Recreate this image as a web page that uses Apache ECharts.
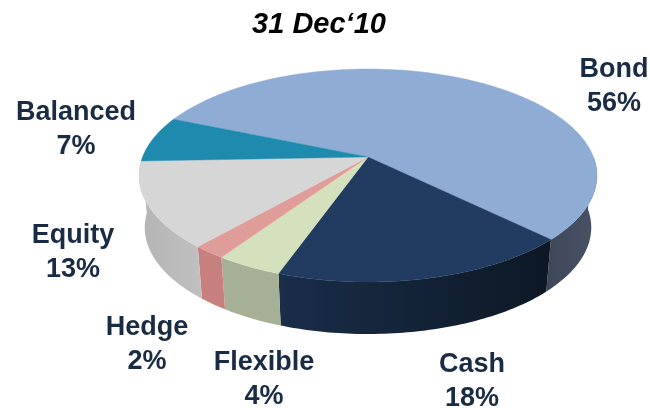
<!DOCTYPE html>
<html><head><meta charset="utf-8">
<style>html,body{margin:0;padding:0;background:#fff}#c{width:650px;height:408px;filter:blur(0.4px)}</style>
<script src="https://cdn.jsdelivr.net/npm/echarts@6/dist/echarts.min.js"></script>
</head><body><div id="c"></div>
<script>
var titleText = "31 Dec\u201810";
var names = ["Bond","Cash","Flexible","Hedge","Equity","Balanced"];
var shares = [56,18,4,2,13,7];
var topColors = ["#8fadd4","#213c60","#d5e1bd","#e09c99","#d6d6d6","#1e8bae"];
var sideFrom = ["#3d4759","#1a2d49","#a5b096","#c8807e","#b4b4b4","#1e8bae"];
var sideTo   = ["#4a5365","#0c1824","#a5b096","#c8807e","#c0c0c0","#1e8bae"];
var labelAnchors = [[614,87],[472,382],[264,380],[147,345],[73,253],[76,130]];

var startAngle = 203.0, cx = 368, cy = 157, sx = 225.5, sy = 103.3, k = 0.1737;
var depthY = 52, bottomScale = 0.975, sideStart = 360, sideEnd = 537.8;
var total = shares.reduce(function(a,b){return a+b;},0);

function rim(deg, bottom){
  var r = deg*Math.PI/180, u = Math.cos(r), v = Math.sin(r), d = 1-k*v;
  var X = sx*u/d, Y = sy*v/d;
  return bottom ? [cx+X*bottomScale, cy+depthY+Y] : [cx+X, cy+Y];
}
function arc(a,b,bottom){
  var pts=[], n=Math.max(2,Math.ceil(Math.abs(b-a)));
  for(var i=0;i<=n;i++) pts.push(rim(a+(b-a)*i/n,bottom));
  return pts;
}
function renderSlice(params, api){
  var i = params.dataIndex, before = 0;
  for(var j=0;j<i;j++) before += shares[j];
  var a = startAngle + before/total*360, b = a + api.value(0)/total*360;
  var children = [];
  var sa = Math.max(a,sideStart), sb = Math.min(b,sideEnd);
  if(sb-sa>0.01){
    var top = arc(sa,sb,false), bot = arc(sa,sb,true).reverse();
    var xs = top.concat(bot).map(function(p){return p[0];});
    children.push({type:'polygon',shape:{points:top.concat(bot)},style:{
      fill:new echarts.graphic.LinearGradient(Math.min.apply(null,xs),0,Math.max.apply(null,xs),0,
        [{offset:0,color:sideFrom[i]},{offset:1,color:sideTo[i]}],true),
      stroke:null}});
  }
  var pts = [[cx,cy]].concat(arc(a,b,false));
  children.push({type:'polygon',shape:{points:pts},style:{fill:topColors[i],stroke:topColors[i],lineWidth:0.4}});
  return {type:'group',children:children};
}
var chart = echarts.init(document.getElementById('c'),null,{renderer:'canvas'});
chart.setOption({
  animation:false,
  backgroundColor:'#fff',
  title:{text:titleText,left:314,top:5,textAlign:'center',
    textStyle:{fontFamily:'Liberation Sans',fontSize:29,fontWeight:'bold',fontStyle:'italic',color:'#000'}},
  series:[{type:'custom',coordinateSystem:'none',silent:true,
    data:shares.map(function(v,i){return {name:names[i],value:[v]};}),
    encode:{value:0},
    renderItem:renderSlice}],
  graphic:names.map(function(n,i){return {
    type:'text',x:labelAnchors[i][0],y:labelAnchors[i][1],silent:true,
    style:{text:n+"\n"+shares[i]+"%",align:'center',verticalAlign:'middle',lineHeight:34,
      fontFamily:'Liberation Sans',fontSize:27,fontWeight:'bold',fill:'#1a2b44'}};})
});
</script></body></html>
